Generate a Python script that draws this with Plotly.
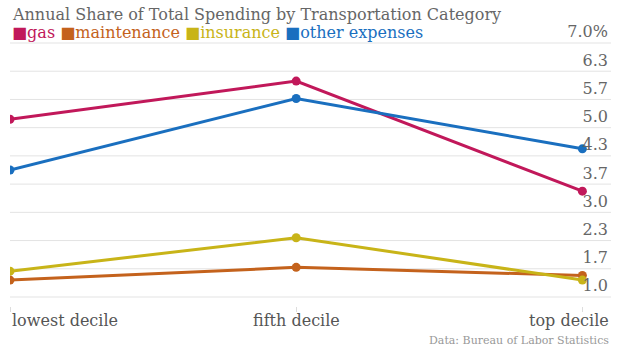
import plotly.graph_objects as go

categories = ["lowest decile", "fifth decile", "top decile"]
gas = [5.20, 6.10, 3.50]
maintenance = [1.40, 1.70, 1.51]
insurance = [1.61, 2.40, 1.40]
other_expenses = [4.00, 5.69, 4.50]
y_tick_vals = [1.0 + i * 2.0 / 3.0 for i in range(10)]
y_tick_text = ["1.0", "1.7", "2.3", "3.0", "3.7", "4.3", "5.0", "5.7", "6.3", "7.0%"]

series = [
    ("gas", gas, "#c1185a"),
    ("maintenance", maintenance, "#c4621c"),
    ("insurance", insurance, "#c8b418"),
    ("other expenses", other_expenses, "#1a6fbf"),
]

FONT = "DejaVu Serif"
xs = list(range(len(categories)))
PX_PER_UNIT = 42.33
GRID = "#e3e3e3"

fig = go.Figure()
for name, vals, color in series:
    fig.add_trace(go.Scatter(
        x=xs, y=vals, mode="lines+markers", name=name,
        line=dict(color=color, width=3),
        marker=dict(color=color, size=9),
        showlegend=False,
    ))

fig.update_layout(
    width=620, height=349,
    margin=dict(l=10, r=9, t=25, b=43),
    paper_bgcolor="white", plot_bgcolor="white",
    font=dict(family=FONT, color="#666"),
    xaxis=dict(
        range=[0, 2.1], tickvals=xs, ticktext=["", "", ""],
        showgrid=False, zeroline=False, showline=False,
        ticks="outside", ticklen=5, tickcolor="#ddd", tickwidth=1,
    ),
    yaxis=dict(
        range=[1.0 - 9 / PX_PER_UNIT, 7.0 + 18 / PX_PER_UNIT], side="right",
        tickvals=y_tick_vals, ticktext=y_tick_text,
        ticklabelposition="inside top", ticklabeloverflow="allow",
        showgrid=False, zeroline=False, showline=False, ticks="",
        tickfont=dict(family=FONT, size=16, color="#666"),
    ),
)

# horizontal gridlines drawn as shapes at each tick value
for v in y_tick_vals:
    fig.add_shape(type="line", xref="paper", yref="y", x0=0, x1=1,
                  y0=v, y1=v, line=dict(color=GRID, width=1), layer="below")

# x category labels
lab_font = dict(family=FONT, size=16, color="#555")
fig.add_annotation(x=xs[0], y=0, xref="x", yref="paper", text=categories[0],
                   xanchor="left", yanchor="middle", yshift=-14, showarrow=False,
                   font=lab_font)
fig.add_annotation(x=xs[1], y=0, xref="x", yref="paper", text=categories[1],
                   xanchor="center", yanchor="middle", yshift=-14, showarrow=False,
                   font=lab_font)
fig.add_annotation(x=1, y=0, xref="paper", yref="paper", text=categories[2],
                   xanchor="right", yanchor="middle", yshift=-14, showarrow=False,
                   font=lab_font)

# title
fig.add_annotation(x=0, y=1, xref="paper", yref="paper",
                   text="Annual Share of Total Spending by Transportation Category",
                   xanchor="left", yanchor="middle", yshift=11, showarrow=False,
                   font=dict(family=FONT, size=16, color="#666"))

# legend line
legend_html = " ".join(
    f"<span style='color:{c}'>■{n}</span>" for n, _, c in series
)
fig.add_annotation(x=0, y=1, xref="paper", yref="paper", text=legend_html,
                   xanchor="left", yanchor="middle", yshift=-7, showarrow=False,
                   font=dict(family=FONT, size=16))

# source
fig.add_annotation(x=1, y=0, xref="paper", yref="paper",
                   text="Data: Bureau of Labor Statistics",
                   xanchor="right", yanchor="middle", yshift=-34, showarrow=False,
                   font=dict(family=FONT, size=11, color="#999"))

fig.write_html("out.html")
